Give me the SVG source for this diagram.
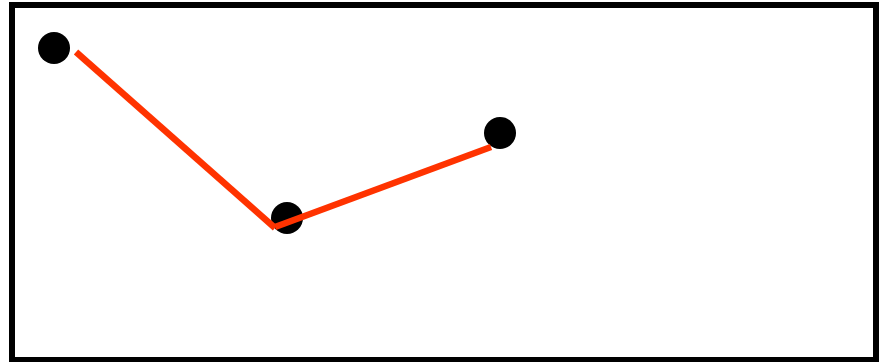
<svg xmlns="http://www.w3.org/2000/svg" width="880" height="362" viewBox="0 0 880 362">
<style>
.node{fill:#000}
.edge{stroke:#ff3300;stroke-width:6.5;fill:none;stroke-linecap:butt}
</style>
<rect x="12" y="5" width="864" height="355" fill="#fff" stroke="#000" stroke-width="6"/>
<g id="n1"><circle class="node" cx="54" cy="48" r="16"/></g>
<g id="n2"><circle class="node" cx="287" cy="218" r="16"/></g>
<g id="n3"><circle class="node" cx="500" cy="133" r="16"/></g>
<g id="edges">
<line class="edge" x1="76" y1="52" x2="275" y2="228"/>
<line class="edge" x1="275" y1="227" x2="491" y2="147"/>
</g>
</svg>
